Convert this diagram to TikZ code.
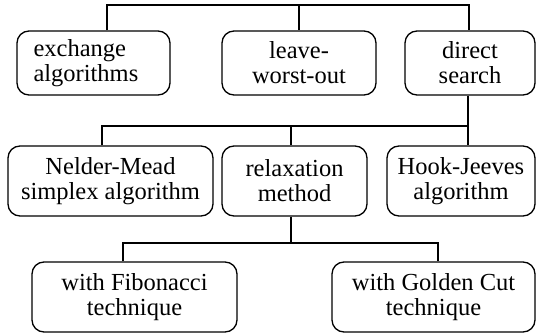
\documentclass[tikz,border=0pt]{standalone}
\usepackage{fontspec}
\setmainfont{Liberation Serif}
\begin{document}
\begin{tikzpicture}[x=1pt,y=-1pt,
  box/.style={draw,line width=1.3pt,rounded corners=12pt,inner sep=0pt,align=center,
    font=\fontsize{24.5}{25}\selectfont},
  conn/.style={line width=1.3pt}]
\useasboundingbox (0,0) rectangle (537,334);
\node[box,minimum width=153pt,minimum height=64pt,align=left,text width=120pt] (b1) at (93.5,63) {exchange\\algorithms};
\node[box,minimum width=154pt,minimum height=64pt] (b2) at (299,63) {leave-\\worst-out};
\node[box,minimum width=130pt,minimum height=64pt] (b3) at (470,63) {direct\\search};
\node[box,minimum width=205pt,minimum height=70pt] (m1) at (110.5,181) {Nelder-Mead\\simplex algorithm};
\node[box,minimum width=145pt,minimum height=70pt] (m2) at (294.5,181) {relaxation\\method};
\node[box,minimum width=148pt,minimum height=70pt] (m3) at (461,181) {Hook-Jeeves\\algorithm};
\node[box,minimum width=205pt,minimum height=70pt] (f1) at (134.5,297) {with Fibonacci\\technique};
\node[box,minimum width=203pt,minimum height=70pt] (f2) at (433.5,297) {with Golden Cut\\technique};
% top level
\coordinate (t1) at (107,5);
\coordinate (t2) at (299,5);
\coordinate (t3) at (469,5);
\draw[conn] (b1.north -| t1) -- (t1) -- (t3) -- (b3.north -| t3);
\draw[conn] (t2) -- (b2.north -| t2);
% second level
\coordinate (s1) at (102,126);
\coordinate (s2) at (291,126);
\coordinate (s3) at (468,126);
\draw[conn] (b3.south -| s3) -- (s3);
\draw[conn] (m1.north -| s1) -- (s1) -- (s3) -- (m3.north -| s3);
\draw[conn] (s2) -- (m2.north -| s2);
% third level
\coordinate (u0) at (291,243);
\coordinate (u1) at (123,243);
\coordinate (u2) at (438,243);
\draw[conn] (m2.south -| u0) -- (u0);
\draw[conn] (f1.north -| u1) -- (u1) -- (u2) -- (f2.north -| u2);
\end{tikzpicture}
\end{document}
